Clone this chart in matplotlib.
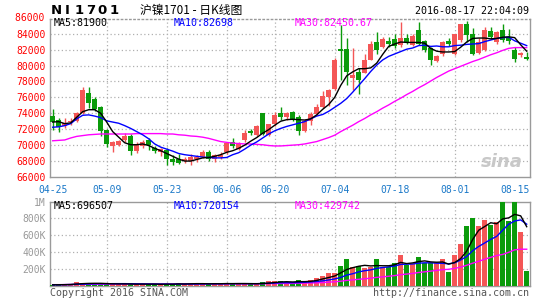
import numpy as np
import matplotlib
matplotlib.use('Agg')
from matplotlib import pyplot as plt

# daily candles, index 0 = 04-25 ... 79 = 08-17
opens = [73600, 73150, 72450, 72900, 73000, 74050, 76500, 75800, 74800, 71900,
         69950, 70000, 70600, 71100, 69300, 69900, 70600, 69700, 69100, 69400,
         68300, 68250, 68000, 68050, 68200, 68500, 69150, 68300, 68450, 69100,
         70350, 69550, 70700, 71800, 71300, 74000, 71300, 72650, 74000, 73500,
         74150, 73500, 71800, 73050, 73900, 74850, 76100, 77000, 82050, 82050,
         78400, 79150, 79100, 80750, 82900, 82350, 83050, 83300, 82550, 83400,
         82550, 84400, 83050, 82150, 80600, 81500, 83050, 81400, 83200, 85250,
         84000, 81600, 81950, 84300, 82950, 84500, 83500, 81950, 81300, 81100]
highs = [74600, 73350, 73350, 73350, 74200, 77250, 77300, 76000, 74900, 72000,
         70500, 70700, 71500, 71400, 70450, 70650, 70900, 69950, 69700, 69600,
         68800, 68900, 68500, 68850, 68700, 69400, 69350, 68950, 69200, 70450,
         70850, 70450, 71950, 72000, 72550, 74050, 72650, 74200, 74750, 74150,
         74300, 73800, 73300, 74200, 75200, 76800, 77050, 80900, 85050, 83450,
         82150, 79700, 81500, 83050, 84200, 83600, 83600, 84000, 85450, 83900,
         84000, 85450, 83150, 82350, 81300, 83050, 83500, 84000, 85250, 85650,
         84700, 83400, 84850, 84850, 84300, 85250, 84550, 82350, 81700, 81650]
lows = [71900, 71600, 72150, 72500, 72900, 73900, 74700, 74300, 71100, 69800,
        69200, 69900, 70400, 68800, 69000, 69700, 69400, 69000, 68600, 67500,
        67550, 67600, 67700, 67550, 67900, 68350, 67950, 67850, 68250, 68900,
        69600, 69400, 70450, 71250, 71200, 71300, 71200, 72450, 73200, 73150,
        73050, 71300, 71700, 72550, 73800, 74700, 74900, 76900, 78200, 77550,
        76950, 76400, 79000, 80700, 81500, 82150, 82300, 82200, 82300, 82650,
        82450, 82550, 81700, 80050, 80400, 81250, 82450, 81300, 82950, 82950,
        81300, 81500, 81800, 83300, 82750, 82950, 82650, 80400, 81100, 80650]
closes = [72900, 72250, 72750, 73050, 74050, 76900, 75250, 74500, 71800, 70100,
          70400, 70550, 71150, 69300, 70200, 70400, 70000, 69250, 69550, 68200,
          67850, 67750, 68300, 68500, 68550, 69150, 68200, 68700, 68800, 70250,
          69850, 70250, 71500, 71500, 72450, 71400, 72650, 73800, 73500, 74000,
          73200, 71800, 73050, 73900, 74850, 76200, 76950, 80750, 81850, 79200,
          78800, 78200, 80750, 82650, 81950, 83300, 82700, 82450, 83450, 82900,
          83700, 82750, 81950, 80700, 81200, 82950, 82750, 83900, 85150, 83800,
          81500, 82950, 84400, 83600, 84150, 83150, 83050, 80800, 81600, 80800]

ma5 = [72900, 72950, 72700, 72800, 73500, 74200, 74450, 74450, 74000, 72900,
       71700, 71000, 70300, 70050, 70050, 70150, 69950, 69600, 69300, 68950,
       68600, 68250, 68000, 68000, 68200, 68400, 68450, 68600, 68800, 69100,
       69300, 69600, 70000, 70500, 70950, 71500, 71950, 72500, 73000, 73200,
       73250, 73200, 73150, 73300, 73800, 74500, 75100, 76000, 77500, 78700,
       79200, 79600, 79600, 79700, 80300, 81400, 82400, 82700, 82950, 82900,
       82900, 82900, 82800, 82150, 81800, 81700, 81700, 81750, 82300, 82950,
       83400, 83450, 83450, 83350, 83400, 83550, 83600, 83500, 82600, 81800]
ma10 = [72250, 72300, 72450, 72700, 73300, 73750, 73800, 73650, 73450, 73050,
        72900, 72750, 72450, 72100, 71700, 71300, 70800, 70150, 69750, 69500,
        69250, 68950, 68800, 68700, 68600, 68500, 68450, 68400, 68400, 68450,
        68800, 69050, 69500, 70000, 70400, 70900, 71400, 71800, 72100, 72350,
        72550, 72750, 72950, 73300, 73650, 73850, 74250, 74750, 75250, 75850,
        76650, 77500, 78350, 79250, 80050, 80700, 81150, 81450, 81750, 82050,
        82200, 82500, 82550, 82400, 82450, 82350, 82350, 82500, 82550, 82650,
        82700, 82750, 83000, 83200, 83400, 83500, 83550, 83100, 82800, 82500]
ma30 = [70550, 70600, 70650, 70900, 71100, 71200, 71300, 71350, 71400, 71400,
        71400, 71400, 71400, 71400, 71450, 71450, 71450, 71450, 71450, 71400,
        71400, 71300, 71250, 71150, 71100, 71000, 70850, 70650, 70450, 70350,
        70250, 70200, 70150, 70150, 70100, 70050, 69950, 69900, 69900, 69950,
        70000, 70050, 70150, 70300, 70450, 70700, 70950, 71250, 71700, 72100,
        72500, 72950, 73350, 73800, 74200, 74650, 75050, 75500, 75900, 76350,
        76750, 77200, 77600, 78050, 78500, 78900, 79300, 79600, 79900, 80200,
        80500, 80750, 81050, 81350, 81600, 81900, 82150, 82250, 82250, 82250]

# volume in thousands
vol = [8, 10, 12, 22, 38, 24, 22, 22, 24, 22, 12, 14, 22, 22, 12, 14, 12, 20, 14, 20,
       12, 30, 14, 22, 22, 22, 18, 22, 22, 30, 20, 22, 22, 18, 22, 36, 48, 52, 52, 36,
       24, 64, 56, 68, 88, 112, 148, 148, 232, 316, 216, 232, 204, 216, 316, 216, 216, 264, 364, 244,
       256, 336, 264, 264, 264, 316, 164, 364, 496, 712, 804, 712, 784, 724, 752, 992, 764, 1000, 632, 176]
vma5 = [8, 9, 10, 12, 18, 22, 25, 26, 26, 23, 20, 19, 19, 18, 16, 17, 16, 17, 15, 16,
        16, 19, 18, 20, 22, 22, 20, 21, 21, 23, 22, 23, 23, 22, 21, 24, 29, 35, 42, 45,
        42, 46, 46, 50, 60, 78, 95, 113, 150, 190, 212, 229, 240, 233, 237, 235, 235, 247, 275, 261,
        269, 285, 293, 281, 277, 280, 254, 274, 321, 410, 548, 658, 702, 747, 735, 793, 805, 847, 829, 700]
vma10 = [8, 9, 10, 11, 14, 16, 18, 20, 21, 21, 22, 22, 22, 21, 20, 19, 18, 17, 17, 17,
         16, 17, 17, 18, 18, 19, 20, 20, 20, 21, 22, 22, 22, 22, 22, 23, 26, 29, 32, 33,
         33, 35, 38, 42, 48, 55, 66, 78, 96, 124, 140, 162, 176, 186, 204, 214, 222, 232, 251, 254,
         256, 266, 270, 270, 266, 264, 258, 270, 304, 346, 414, 465, 506, 549, 585, 658, 730, 768, 781, 730]
vma30 = [10, 10, 11, 12, 13, 14, 14, 15, 15, 16, 16, 16, 17, 17, 17, 17, 17, 17, 17, 18,
         18, 18, 18, 18, 18, 19, 19, 19, 19, 20, 20, 20, 20, 20, 20, 21, 22, 23, 24, 25,
         25, 27, 28, 30, 32, 35, 40, 44, 51, 61, 67, 74, 80, 87, 97, 103, 110, 118, 129, 136,
         144, 155, 163, 171, 180, 189, 193, 204, 219, 241, 266, 288, 313, 335, 357, 370, 395, 425, 432, 432]

date_pos = [0, 9, 19, 29, 37, 47, 57, 67, 77]
date_labels = ['04-25', '05-09', '05-23', '06-06', '06-20', '07-04', '07-18', '08-01', '08-15']
price_ticks = [66000, 68000, 70000, 72000, 74000, 76000, 78000, 80000, 82000, 84000]
vol_ticks = [200, 400, 600, 800, 1000]
vol_labels = ['200K', '400K', '600K', '800K', '1M']

RED = '#f45656'
GREEN = '#0b9b0b'
GRID = '#b0b0b0'
MONO = 'DejaVu Sans Mono'

W, H = 545, 300
fig = plt.figure(figsize=(W / 100, H / 100), dpi=100)

def fx(x):
    return x / W

def fy(y):
    return 1 - y / H

ax = fig.add_axes([fx(50), fy(177), fx(480), 158 / H])
axv = fig.add_axes([fx(50), fy(285.5), fx(480), 84 / H])

o = np.array(opens); c = np.array(closes)
hi = np.array(highs); lo = np.array(lows)
x = np.arange(len(o))
cols = np.where(c >= o, RED, GREEN)

# candles
ax.vlines(x, lo, hi, colors=cols, lw=1, zorder=3)
ax.bar(x, np.maximum(np.abs(c - o), 60), bottom=np.minimum(o, c), width=0.8,
       color=cols, linewidth=0, zorder=4)
ax.plot(x, ma30, color='#ff00ff', lw=1, zorder=5)
ax.plot(x, ma10, color='#0000ff', lw=1, zorder=5)
ax.plot(x, ma5, color='black', lw=1, zorder=6)

# volume
v = np.array(vol) * 1000
axv.bar(x, v, width=0.8, color=cols, linewidth=0, zorder=3)
axv.plot(x, np.array(vma30) * 1000, color='#ff00ff', lw=1, zorder=5)
axv.plot(x, np.array(vma10) * 1000, color='#0000ff', lw=1, zorder=5)
axv.plot(x, np.array(vma5) * 1000, color='black', lw=1, zorder=6)

for a in (ax, axv):
    a.set_xlim(-0.45, 79.55)
    for s in a.spines.values():
        s.set_color('#9a9a9a')
        s.set_linewidth(1)
    for p in date_pos[1:8]:
        a.axvline(p, color=GRID, lw=0.9, ls=(0, (1, 2)), zorder=1)
    a.tick_params(length=0)
ax.spines['top'].set_linestyle((0, (1, 2)))

ax.set_ylim(66000, 85840)
for t in price_ticks[1:]:
    ax.axhline(t, color=GRID, lw=0.9, ls=(0, (1, 2)), zorder=1)
ax.set_yticks(price_ticks)
ax.set_yticklabels([str(t) for t in price_ticks], color='red', family=MONO, fontsize=7)
ax.text(-0.45, 86000, '86000 ', color='red', family=MONO, fontsize=7,
        ha='right', va='center', clip_on=False)
ax.tick_params(axis='y', pad=3)
ax.set_xticks(date_pos)
ax.set_xticklabels(date_labels, color='#1a78c8', family=MONO, fontsize=7)
ax.tick_params(axis='x', pad=6)

axv.set_ylim(0, 1000000)
for t in vol_ticks[:-1]:
    axv.axhline(t * 1000, color=GRID, lw=0.9, ls=(0, (1, 2)), zorder=1)
axv.set_yticks([t * 1000 for t in vol_ticks])
axv.set_yticklabels(vol_labels, color='#999999', family=MONO, fontsize=7)
axv.tick_params(axis='y', pad=3)
axv.set_xticks([])

# header texts
for k, ch in enumerate('NI1701'):
    fig.text(fx(56 + 11.6 * k), fy(10.5), ch, ha='center', va='center',
             fontsize=9.5, fontweight='bold', family='DejaVu Sans')
fig.text(fx(140), fy(10.5), '沪镍1701 - 日K线图', ha='left', va='center', fontsize=8.5,
         family=['Noto Sans CJK SC', 'DejaVu Sans'])
fig.text(fx(529), fy(11.5), '2016-08-17 22:04:09', ha='right', va='center',
         fontsize=7.2, family=MONO)

# MA legends
fig.text(fx(54), fy(23.5), 'MA5:81900', color='black', family=MONO, fontsize=7.2, va='center')
fig.text(fx(174), fy(23.5), 'MA10:82698', color='#0000ff', family=MONO, fontsize=7.2, va='center')
fig.text(fx(295), fy(23.5), 'MA30:82450.67', color='#ff00ff', family=MONO, fontsize=7.2, va='center')
fig.text(fx(54), fy(206), 'MA5:696507', color='black', family=MONO, fontsize=7.2, va='center')
fig.text(fx(174), fy(206), 'MA10:720154', color='#0000ff', family=MONO, fontsize=7.2, va='center')
fig.text(fx(295), fy(206), 'MA30:429742', color='#ff00ff', family=MONO, fontsize=7.2, va='center')

# watermark
ax.text(0.985, 0.04, 'sina', transform=ax.transAxes, ha='right', va='bottom',
        fontsize=13, fontweight='bold', style='italic', color='#c8c8c8', zorder=2)

# footer
fig.text(fx(50), fy(292.5), 'Copyright 2016 SINA.COM', color='#555555', family=MONO,
         fontsize=7.2, va='center')
fig.text(fx(529), fy(292.5), 'http://finance.sina.com.cn', color='#555555', family=MONO,
         fontsize=7.2, va='center', ha='right')

fig.savefig('out.png', dpi=100)
